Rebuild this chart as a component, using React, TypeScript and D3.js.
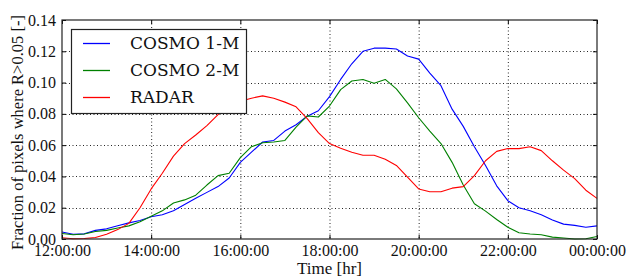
import React, { useEffect, useRef } from 'react';
import * as d3 from 'd3';

// time in hours after midnight of the first day (24 = 00:00 next day)
const hours = [
  12, 12.25, 12.5, 12.75, 13, 13.25, 13.5, 13.75, 14, 14.25, 14.5, 14.75,
  15, 15.25, 15.5, 15.75, 16, 16.25, 16.5, 16.75, 17, 17.25, 17.5, 17.75,
  18, 18.25, 18.5, 18.75, 19, 19.25, 19.5, 19.75, 20, 20.25, 20.5, 20.75,
  21, 21.25, 21.5, 21.75, 22, 22.25, 22.5, 22.75, 23, 23.25, 23.5, 23.75, 24,
];

const cosmo1 = [
  0.0045, 0.0030, 0.0033, 0.0055, 0.0065, 0.0085, 0.0103, 0.0118, 0.0142, 0.0155, 0.0180, 0.0220,
  0.0260, 0.0298, 0.0335, 0.0390, 0.0490, 0.0555, 0.0620, 0.0630, 0.0690, 0.0730, 0.0785, 0.0820,
  0.0910, 0.1020, 0.1120, 0.1200, 0.1220, 0.1220, 0.1215, 0.1170, 0.1150, 0.1060, 0.0980, 0.0830,
  0.0720, 0.0590, 0.0470, 0.0340, 0.0245, 0.0200, 0.0180, 0.0155, 0.0122, 0.0095, 0.0087, 0.0075, 0.0084,
];

const cosmo2 = [
  0.0035, 0.0027, 0.0032, 0.0048, 0.0055, 0.0070, 0.0084, 0.0110, 0.0145, 0.0180, 0.0230, 0.0250,
  0.0280, 0.0345, 0.0405, 0.0420, 0.0520, 0.0590, 0.0615, 0.0620, 0.0630, 0.0715, 0.0787, 0.0780,
  0.0850, 0.0955, 0.1010, 0.1020, 0.0995, 0.1020, 0.0960, 0.0870, 0.0775, 0.0690, 0.0610, 0.0490,
  0.0345, 0.0225, 0.0178, 0.0125, 0.0075, 0.0040, 0.0032, 0.0027, 0.0012, 0.0006, 0.0000, 0.0002, 0.0016,
];

const radar = [
  0.0008, 0.0002, 0.0003, 0.0010, 0.0030, 0.0060, 0.0100, 0.0200, 0.0320, 0.0420, 0.0530, 0.0610,
  0.0665, 0.0725, 0.0795, 0.0845, 0.0880, 0.0900, 0.0915, 0.0900, 0.0875, 0.0845, 0.0770, 0.0680,
  0.0610, 0.0580, 0.0555, 0.0535, 0.0535, 0.0510, 0.0470, 0.0395, 0.0320, 0.0302, 0.0302, 0.0325,
  0.0335, 0.0405, 0.0500, 0.0560, 0.0578, 0.0578, 0.0590, 0.0565, 0.0500, 0.0440, 0.0386, 0.0312, 0.0260,
];

const xTickHours = [12, 14, 16, 18, 20, 22, 24];
const xTickLabels = ['12:00:00', '14:00:00', '16:00:00', '18:00:00', '20:00:00', '22:00:00', '00:00:00'];
const yTicks = [0, 0.02, 0.04, 0.06, 0.08, 0.1, 0.12, 0.14];

const seriesNames = ['COSMO 1-M', 'COSMO 2-M', 'RADAR'];
const seriesColors = ['#0000ff', '#008000', '#ff0000'];

export default function App() {
  const ref = useRef<SVGSVGElement>(null);

  useEffect(() => {
    const width = 627, height = 278;
    const left = 62, right = 597, top = 20, bottom = 239;
    const svg = d3.select(ref.current);
    svg.selectAll('*').remove();
    svg.attr('viewBox', [0, 0, width, height]);

    const x = d3.scaleLinear().domain([12, 24]).range([left, right]);
    const y = d3.scaleLinear().domain([0, 0.14]).range([bottom, top]);

    svg.append('rect').attr('width', width).attr('height', height).attr('fill', '#fff');

    // dotted grid
    const grid = svg.append('g')
      .attr('stroke', '#000')
      .attr('stroke-width', 1)
      .attr('stroke-dasharray', '1,2.5')
      .attr('opacity', 0.85);
    grid.selectAll('.gx')
      .data(xTickHours.slice(1, -1))
      .join('line')
      .attr('x1', d => x(d) + 0.5).attr('x2', d => x(d) + 0.5)
      .attr('y1', top).attr('y2', bottom);
    grid.selectAll('.gy')
      .data(yTicks.slice(1, -1))
      .join('line')
      .attr('y1', d => Math.round(y(d)) + 0.5).attr('y2', d => Math.round(y(d)) + 0.5)
      .attr('x1', left).attr('x2', right);

    // lines
    const series = [cosmo1, cosmo2, radar];
    const line = d3.line<number>()
      .x((_, i) => x(hours[i]))
      .y(d => y(d));
    svg.append('g')
      .selectAll('path')
      .data(series)
      .join('path')
      .attr('fill', 'none')
      .attr('stroke', (_, i) => seriesColors[i])
      .attr('stroke-width', 1.1)
      .attr('stroke-linejoin', 'round')
      .attr('d', d => line(d));

    // axes, ticks pointing inward
    const fmt = (d: d3.NumberValue) => xTickLabels[xTickHours.indexOf(+d)];
    const styleAxis = (g: d3.Selection<SVGGElement, unknown, null, undefined>) => {
      g.select('.domain').remove();
      g.attr('font-family', 'Liberation Serif').attr('font-size', 16);
      g.selectAll('.tick line').attr('stroke', '#000');
      g.selectAll('.tick text').attr('fill', '#111');
    };
    svg.append('g')
      .attr('transform', `translate(0,${bottom})`)
      .call(d3.axisBottom(x).tickValues(xTickHours).tickFormat(fmt).tickSizeInner(-4).tickSizeOuter(0).tickPadding(6))
      .call(styleAxis);
    svg.append('g')
      .attr('transform', `translate(0,${top})`)
      .call(d3.axisTop(x).tickValues(xTickHours).tickFormat(() => '').tickSizeInner(-4).tickSizeOuter(0))
      .call(styleAxis);
    svg.append('g')
      .attr('transform', `translate(${left},0)`)
      .call(d3.axisLeft(y).tickValues(yTicks).tickFormat(d3.format('.2f')).tickSizeInner(-4).tickSizeOuter(0).tickPadding(6))
      .call(styleAxis);
    svg.append('g')
      .attr('transform', `translate(${right},0)`)
      .call(d3.axisRight(y).tickValues(yTicks).tickFormat(() => '').tickSizeInner(-4).tickSizeOuter(0))
      .call(styleAxis);

    // frame
    svg.append('rect')
      .attr('x', left).attr('y', top)
      .attr('width', right - left).attr('height', bottom - top)
      .attr('fill', 'none').attr('stroke', '#222').attr('stroke-width', 1.2);

    // axis labels
    svg.append('text')
      .attr('x', (left + right) / 2).attr('y', 274)
      .attr('text-anchor', 'middle')
      .attr('font-family', 'serif').attr('font-size', 17)
      .attr('fill', '#111')
      .text('Time [hr]');
    svg.append('text')
      .attr('transform', `translate(23,${(top + bottom) / 2 + 3}) rotate(-90)`)
      .attr('text-anchor', 'middle')
      .attr('font-family', 'serif').attr('font-size', 16.5)
      .attr('fill', '#111')
      .text('Fraction of pixels where R>0.05 [-]');

    // legend
    const lg = svg.append('g');
    lg.append('rect')
      .attr('x', 71.5).attr('y', 29.5).attr('width', 175).attr('height', 84)
      .attr('fill', '#fff').attr('stroke', '#222').attr('stroke-width', 1.2);
    const rows = lg.selectAll('g.row')
      .data(seriesNames)
      .join('g')
      .attr('transform', (_, i) => `translate(0,${43.5 + i * 27})`);
    rows.append('line')
      .attr('x1', 83).attr('x2', 110)
      .attr('stroke', (_, i) => seriesColors[i])
      .attr('stroke-width', 1.3);
    rows.append('text')
      .attr('x', 130).attr('dy', '0.35em')
      .attr('font-family', 'DejaVu Serif').attr('font-size', 17)
      .attr('fill', '#111')
      .text(d => d);
  }, []);

  return (
    <svg ref={ref} width={627} height={278}
      style={{ position: 'absolute', left: 0, top: 0, display: 'block' }} />
  );
}
